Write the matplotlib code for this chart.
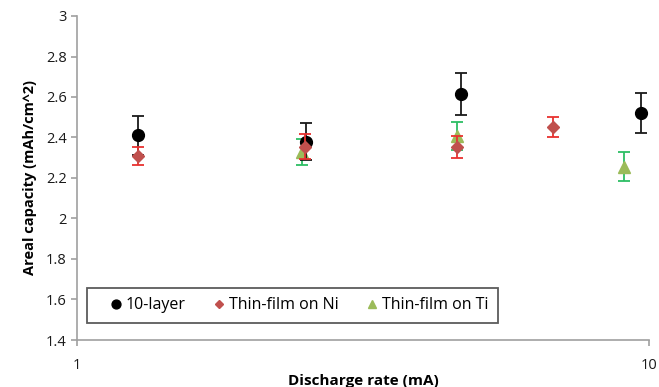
import matplotlib
matplotlib.use("Agg")
import matplotlib.pyplot as plt
from matplotlib.ticker import FixedLocator, NullLocator

plt.rcParams['font.family'] = ['Open Sans', 'DejaVu Sans']

# Data
layer_x = [1.28, 2.51, 4.70, 9.70]
layer_y = [2.41, 2.38, 2.615, 2.52]
layer_err = [0.095, 0.09, 0.105, 0.10]

ni_x = [1.28, 2.50, 4.62, 6.80]
ni_y = [2.31, 2.355, 2.353, 2.452]
ni_err = [0.045, 0.06, 0.055, 0.05]

ti_x = [2.47, 4.62, 9.04]
ti_y = [2.33, 2.407, 2.256]
ti_err = [0.065, 0.07, 0.07]

yticks = [1.4, 1.6, 1.8, 2.0, 2.2, 2.4, 2.6, 2.8, 3.0]
ytick_labels = ['1.4', '1.6', '1.8', '2', '2.2', '2.4', '2.6', '2.8', '3']

fig = plt.figure(figsize=(6.59, 3.87), dpi=100)
ax = fig.add_axes([77/659, 1-340/387, (649-77)/659, (340-16)/387])

ax.errorbar(layer_x, layer_y, yerr=layer_err, fmt='o', color='black', ecolor='#1a1a1a',
            markersize=8.5, capsize=4, elinewidth=1.3, capthick=1.3, label='10-layer', zorder=3)
ax.errorbar(ni_x, ni_y, yerr=ni_err, fmt='D', color='#C0504D', ecolor='#E8322F',
            markersize=6, capsize=4, elinewidth=1.3, capthick=1.3, label='Thin-film on Ni', zorder=4)
ax.errorbar(ti_x, ti_y, yerr=ti_err, fmt='^', color='#9BBB59', ecolor='#2DBE64',
            markersize=8, capsize=4, elinewidth=1.3, capthick=1.3, label='Thin-film on Ti', zorder=2)

ax.set_xscale('log')
ax.set_xlim(1, 10)
ax.set_ylim(1.4, 3.0)
ax.xaxis.set_major_locator(FixedLocator([1, 10]))
ax.xaxis.set_minor_locator(NullLocator())
ax.set_xticklabels(['1', '10'])
ax.set_yticks(yticks)
ax.set_yticklabels(ytick_labels)

for s in ['top', 'right']:
    ax.spines[s].set_visible(False)
for s in ['left', 'bottom']:
    ax.spines[s].set_color('#A0A0A0')
    ax.spines[s].set_linewidth(1.2)
ax.tick_params(axis='both', colors='#A0A0A0', labelcolor='#1a1a1a', labelsize=10.5, length=4, width=1.2)
ax.tick_params(axis='x', pad=9)

ax.set_xlabel('Discharge rate (mA)', fontsize=11, fontweight='bold', labelpad=1)
ax.set_ylabel('Areal capacity (mAh/cm^2)', fontsize=10.5, fontweight='bold', labelpad=6)

handles, labels = ax.get_legend_handles_labels()
handles = [h[0] for h in handles]
leg = ax.legend(handles, labels, loc='lower left', bbox_to_anchor=(10/572, 17/324), ncol=3,
                frameon=True, fancybox=False, fontsize=11.5, handletextpad=-0.58,
                columnspacing=0.9, borderpad=0.6, handlelength=2.4, markerscale=0.75,
                borderaxespad=0)
leg.get_frame().set_edgecolor('#333333')
leg.get_frame().set_linewidth(1.3)

fig.savefig('out.png', dpi=100)
